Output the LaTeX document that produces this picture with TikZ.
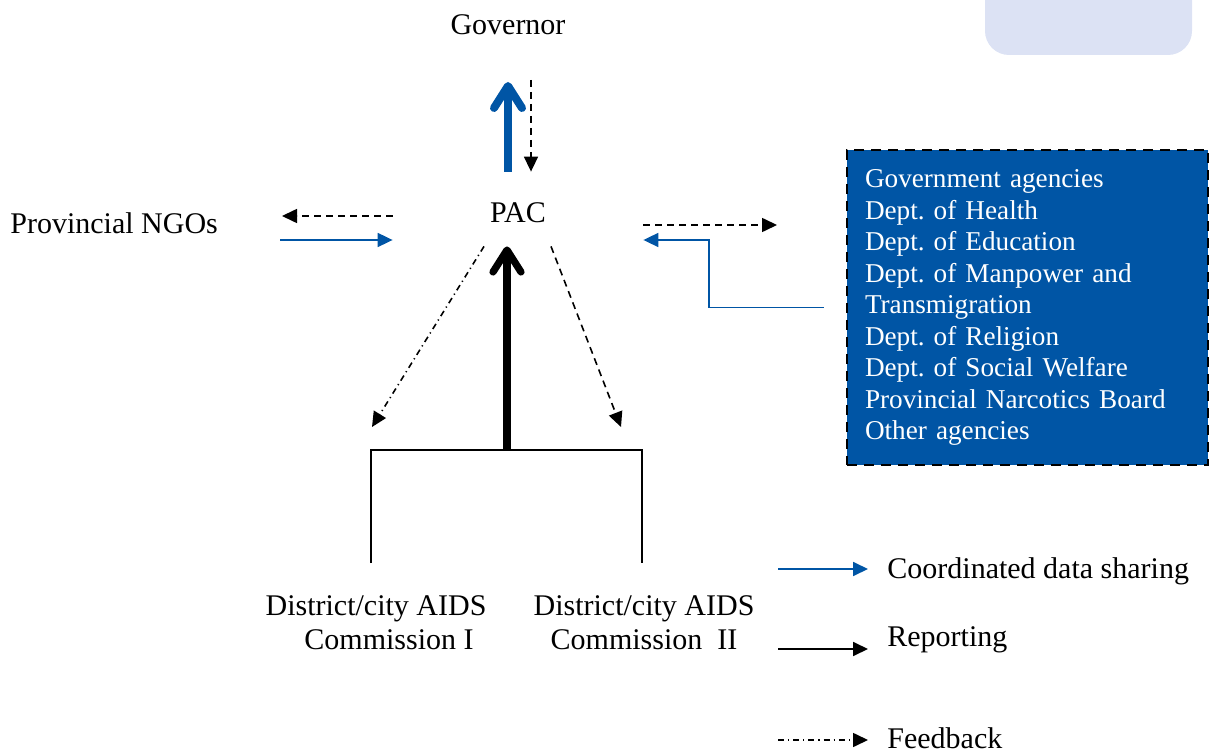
\documentclass[tikz,border=0pt]{standalone}
\usepackage{xcolor}
\usepackage{fontspec}
\setmainfont{Liberation Serif}
\usepackage{tikz}
\usetikzlibrary{arrows.meta}
\usetikzlibrary{positioning}
\definecolor{pacblue}{HTML}{0055A5}
\definecolor{tabblue}{HTML}{DCE2F4}
\frenchspacing

\begin{document}
\begin{tikzpicture}[x = 0.5pt, y = -0.5pt,
  txt/.style = {inner sep = 0pt, font = \fontsize{15}{17}\selectfont},
  keytext/.style = {txt, inner xsep = 9.5pt, anchor = base west},
  hub/.style = {inner sep = 0pt, minimum width = 125pt, text height = 25.5pt, text depth = 11.5pt, font = \fontsize{15}{17}\selectfont},
  agencybox/.style = {fill = pacblue, draw = black, line width = 1.2pt, dash pattern = on 5pt off 3.5pt,
    text = white, align = left, text width = 162.5pt, inner xsep = 9pt, minimum height = 157.5pt,
    font = \fontsize{13.6}{15.75}\selectfont},
  dataline/.style = {-{Triangle[length = 7.5pt, width = 7pt]}, draw = pacblue, line width = 0.9pt},
  reportline/.style = {-{Triangle[length = 7.5pt, width = 7pt]}, draw = black, line width = 0.9pt},
  fbdash/.style = {-{Triangle[length = 7.5pt, width = 7pt]}, draw = black, line width = 0.8pt, dash pattern = on 3.5pt off 2.5pt},
  fbdashdot/.style = {-{Triangle[length = 7.5pt, width = 7pt]}, draw = black, line width = 0.8pt, dash pattern = on 3pt off 2pt on 0.6pt off 2pt},
  thickblue/.style = {-{Straight Barb[length = 11pt, width = 14pt, round]}, draw = pacblue, line width = 4pt},
  thickblack/.style = {-{Straight Barb[length = 11pt, width = 14pt, round]}, draw = black, line width = 3.6pt},
  bracket/.style = {draw = black, line width = 1.2pt}]
\useasboundingbox (0, 0) rectangle (1214, 753);

% corner tab
\fill [tabblue, rounded corners = 12pt] (985, -30) rectangle (1192, 55);

% main nodes
\node [txt, anchor = base] (gov) at (508, 35) {Governor};
\node [hub, anchor = base] (PAC) at (518, 223) {PAC};
\node [txt, anchor = base west] (ngo) at (10, 234) {Provincial NGOs};
\node [agencybox] (agencies) at (1027.5, 307.5) {Government agencies\\Dept. of Health\\Dept. of Education\\Dept. of Manpower and\\Transmigration\\Dept. of Religion\\Dept. of Social Welfare\\Provincial Narcotics Board\\Other agencies};
\node [txt, align = center, anchor = north] (distI) at (376, 595) {District/city AIDS\\\hspace*{13pt}Commission I};
\node [txt, align = center, anchor = north] (distII) at (644, 595) {District/city AIDS\\Commission\ \ II};

\coordinate (govIn) at (508, 82);
\coordinate (govOut) at (531, 80);
\coordinate (ngoA) at (282, 216);
\coordinate (ngoB) at (280, 240);
\coordinate (agA) at (777, 225);
\coordinate (fbI) at (372, 427);
\coordinate (fbII) at (621, 427);
\coordinate (brL) at (371, 563);
\coordinate (brR) at (642, 563);
\coordinate (brTop) at (507, 450);

% PAC <-> governor
\draw [thickblue] (PAC.north -| govIn) to (govIn);
\draw [fbdash] (govOut) to (PAC.north -| govOut);

% PAC <-> NGOs
\draw [fbdash] (PAC.west |- ngoA) to (ngoA);
\draw [dataline] (ngoB) to (PAC.west |- ngoB);

% PAC <-> agencies
\draw [fbdash] (PAC.east |- agA) to (agA);
\draw [dataline] ([xshift = -11pt]agencies.west) -- ++(-115, 0) |- (PAC.east |- ngoB);

% districts
\draw [bracket] (brL) |- (brTop) -| (brR);
\draw [thickblack] (brTop) to (PAC.south -| brTop);
\draw [fbdashdot] ([xshift = -17pt]PAC.south) to (fbI);
\draw [fbdash] ([xshift = 16.5pt]PAC.south) to (fbII);

% key
\node [keytext] (keyData) at (868, 578) {Coordinated data sharing};
\node [keytext] (keyReport) at (868, 646) {Reporting};
\node [keytext] (keyFeed) at (868, 748) {Feedback};
\coordinate (keyA) at (778, 569);
\coordinate (keyB) at (778, 649);
\coordinate (keyC) at (778, 740);
\draw [dataline] (keyA) to (keyA -| keyData.west);
\draw [reportline] (keyB) to (keyB -| keyReport.west);
\draw [fbdashdot] (keyC) to (keyC -| keyFeed.west);
\end{tikzpicture}
\end{document}
